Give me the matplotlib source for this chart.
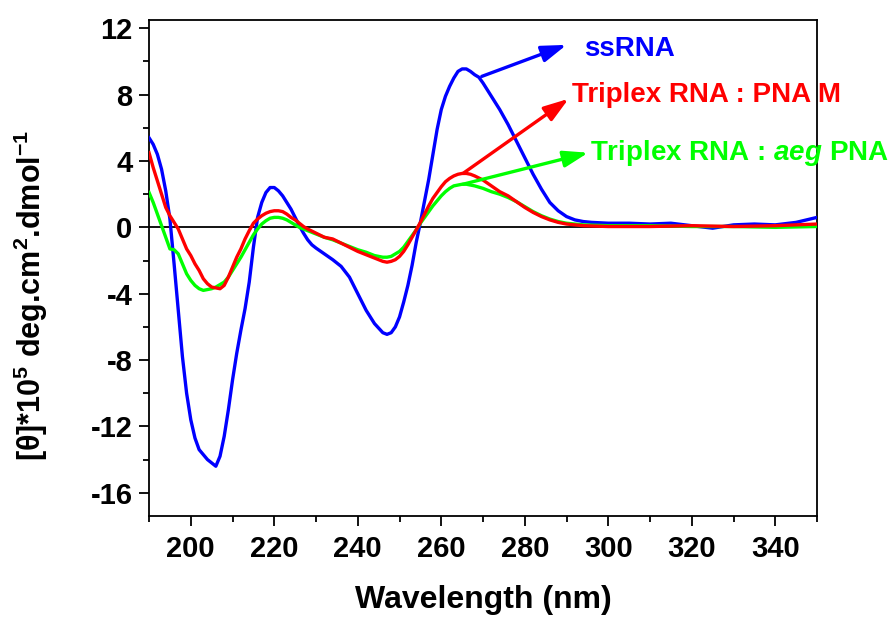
import numpy as np
import matplotlib
matplotlib.use('Agg')
import matplotlib.pyplot as plt
from matplotlib.ticker import MultipleLocator

# ssRNA (blue)
wl_ss = [190, 191, 192, 193, 194, 195, 196, 197, 198, 199, 200, 201, 202, 203, 204, 205, 206, 207, 208, 209,
         210, 211, 212, 213, 214, 215, 216, 217, 218, 219, 220, 221, 222, 223, 224, 225, 226, 227, 228, 229,
         230, 232, 234, 236, 238, 240, 242, 244, 246, 247, 248, 249, 250, 251, 252, 253, 254, 255, 256, 257,
         258, 259, 260, 261, 262, 263, 264, 265, 266, 267, 268, 269, 270, 272, 274, 276, 278, 280, 282, 284,
         286, 288, 290, 292, 294, 296, 300, 305, 310, 315, 320, 325, 330, 335, 340, 345, 350]
cd_ss = [5.4, 5.0, 4.4, 3.5, 2.2, 0.5, -2.2, -5.0, -7.8, -10.0, -11.6, -12.7, -13.4, -13.7, -14.0, -14.2, -14.4, -13.8, -12.6, -11.0,
         -9.2, -7.6, -6.2, -4.9, -3.3, -1.2, 0.6, 1.5, 2.1, 2.4, 2.4, 2.2, 1.9, 1.5, 1.1, 0.6, 0.1, -0.35, -0.75, -1.05,
         -1.25, -1.6, -1.95, -2.35, -3.0, -4.0, -5.0, -5.8, -6.35, -6.45, -6.35, -6.0, -5.4, -4.5, -3.5, -2.3, -0.9, 0.3, 1.6, 2.9,
         4.4, 5.9, 7.1, 7.9, 8.5, 9.0, 9.4, 9.55, 9.55, 9.4, 9.2, 9.05, 8.7, 7.9, 7.1, 6.2, 5.2, 4.2, 3.2, 2.3,
         1.5, 1.0, 0.65, 0.45, 0.35, 0.3, 0.25, 0.25, 0.2, 0.25, 0.1, -0.05, 0.15, 0.2, 0.15, 0.3, 0.6]

# Triplex RNA : PNA M (red)
wl_pm = [190, 191, 192, 193, 194, 195, 196, 197, 198, 199, 200, 201, 202, 203, 204, 205, 206, 207, 208, 209,
         210, 211, 212, 213, 214, 215, 216, 217, 218, 219, 220, 221, 222, 223, 224, 225, 226, 227, 228, 230,
         232, 234, 236, 238, 240, 242, 244, 246, 247, 248, 249, 250, 251, 252, 253, 254, 255, 256, 257, 258,
         259, 260, 261, 262, 263, 264, 265, 266, 267, 268, 270, 272, 274, 276, 278, 280, 282, 284, 286, 288,
         290, 294, 300, 310, 320, 330, 340, 350]
cd_pm = [4.5, 3.6, 2.8, 2.0, 1.2, 0.7, 0.3, -0.1, -0.7, -1.3, -1.7, -2.2, -2.6, -3.1, -3.4, -3.6, -3.65, -3.7, -3.5, -3.0,
         -2.4, -1.8, -1.3, -0.7, -0.2, 0.25, 0.5, 0.7, 0.85, 0.95, 1.0, 1.0, 0.95, 0.8, 0.6, 0.45, 0.25, 0.05, -0.1, -0.35,
         -0.6, -0.7, -0.95, -1.2, -1.45, -1.65, -1.85, -2.05, -2.1, -2.05, -1.95, -1.75, -1.45, -1.05, -0.6, -0.15, 0.3, 0.8, 1.3, 1.75,
         2.1, 2.45, 2.75, 2.95, 3.1, 3.2, 3.25, 3.25, 3.2, 3.1, 2.85, 2.5, 2.15, 1.9, 1.55, 1.2, 0.9, 0.65, 0.45, 0.3,
         0.2, 0.1, 0.05, 0.05, 0.1, 0.05, 0.1, 0.2]

# Triplex RNA : aeg PNA (green)
wl_aeg = [190, 191, 192, 193, 194, 195, 196, 197, 198, 199, 200, 201, 202, 203, 204, 205, 206, 207, 208, 209,
          210, 211, 212, 213, 214, 215, 216, 217, 218, 219, 220, 221, 222, 223, 224, 225, 226, 227, 228, 230,
          232, 234, 236, 238, 240, 242, 244, 246, 247, 248, 249, 250, 251, 252, 253, 254, 255, 256, 257, 258,
          259, 260, 261, 262, 263, 264, 265, 266, 268, 270, 272, 274, 276, 278, 280, 282, 284, 286, 288, 290,
          294, 300, 310, 320, 330, 340, 350]
cd_aeg = [2.1, 1.5, 0.8, 0.1, -0.6, -1.3, -1.35, -1.6, -2.2, -2.8, -3.2, -3.5, -3.7, -3.8, -3.75, -3.7, -3.6, -3.45, -3.3, -3.0,
          -2.6, -2.2, -1.8, -1.35, -0.9, -0.45, -0.1, 0.2, 0.4, 0.55, 0.6, 0.6, 0.55, 0.45, 0.3, 0.15, 0.0, -0.1, -0.2, -0.4,
          -0.6, -0.75, -0.95, -1.15, -1.35, -1.5, -1.7, -1.8, -1.8, -1.75, -1.6, -1.45, -1.2, -0.85, -0.5, -0.15, 0.25, 0.6, 0.95, 1.3,
          1.6, 1.9, 2.15, 2.35, 2.5, 2.55, 2.6, 2.6, 2.5, 2.35, 2.15, 2.0, 1.8, 1.55, 1.25, 0.95, 0.7, 0.5, 0.35, 0.25,
          0.15, 0.1, 0.1, 0.05, 0.05, 0.0, 0.05]

labels = ['ssRNA', 'Triplex RNA : PNA M', r'Triplex RNA : $\mathit{aeg}$ PNA']
colors = ['#0000ff', '#ff0000', '#00ff00']


def main():
	plt.rcParams['font.family'] = ['Liberation Sans', 'DejaVu Sans']
	plt.rcParams['font.weight'] = 'bold'
	plt.rcParams['axes.unicode_minus'] = False
	plt.rcParams['mathtext.fontset'] = 'custom'
	plt.rcParams['mathtext.rm'] = 'Liberation Sans:bold'
	plt.rcParams['mathtext.bf'] = 'Liberation Sans:bold'
	plt.rcParams['mathtext.it'] = 'Liberation Sans:bold:italic'
	plt.rcParams['mathtext.default'] = 'rm'

	fig = plt.figure(figsize=(8.93, 6.17), dpi=100)
	ax = fig.add_axes([0.1669, 0.1637, 0.7480, 0.8039])

	ax.axhline(0, color='black', lw=1.3, zorder=1)
	ax.plot(wl_ss, cd_ss, color=colors[0], lw=2.4, zorder=3)
	ax.plot(wl_aeg, cd_aeg, color=colors[2], lw=2.4, zorder=3)
	ax.plot(wl_pm, cd_pm, color=colors[1], lw=2.4, zorder=4)

	ax.set_xlim(190, 350)
	ax.set_ylim(-17.4, 12.5)
	ax.xaxis.set_major_locator(MultipleLocator(20))
	ax.xaxis.set_minor_locator(MultipleLocator(10))
	ax.yaxis.set_major_locator(MultipleLocator(4))
	ax.yaxis.set_minor_locator(MultipleLocator(2))
	ax.tick_params(which='major', direction='out', length=7, width=1.3, labelsize=21)
	ax.tick_params(axis='x', which='major', pad=7)
	ax.tick_params(axis='y', which='major', pad=5)
	ax.tick_params(which='minor', direction='out', length=4, width=1.3)
	ax.tick_params(top=False, right=False)
	for s in ax.spines.values():
		s.set_linewidth(1.3)

	ax.set_xlabel('Wavelength (nm)', fontsize=23, fontweight='bold')
	ax.xaxis.set_label_coords(0.5, -0.14)
	ax.set_ylabel(r'[θ]*10$^{5}$ deg.cm$^{2}$.dmol$^{-1}$', fontsize=22, fontweight='bold')
	ax.yaxis.set_label_coords(-0.148, 0.445)

	# annotation arrows
	arr = dict(arrowstyle='-|>,head_length=0.75,head_width=0.25', lw=2.4,
		mutation_scale=20, shrinkA=0, shrinkB=0)
	ax.annotate('', xy=(290, 11.0), xytext=(269.7, 9.1),
		arrowprops=dict(arr, color=colors[0]), zorder=5)
	ax.annotate('', xy=(290.5, 7.75), xytext=(265.2, 3.25),
		arrowprops=dict(arr, color=colors[1]), zorder=5)
	ax.annotate('', xy=(295.2, 4.5), xytext=(265.2, 2.6),
		arrowprops=dict(arr, color=colors[2]), zorder=5)

	ax.text(294.1, 10.75, labels[0], color=colors[0], fontsize=20, fontweight='bold', va='center', ha='left')
	ax.text(291.2, 8.0, labels[1], color=colors[1], fontsize=20, fontweight='bold', va='center', ha='left')
	ax.text(295.7, 4.5, labels[2], color=colors[2], fontsize=20, fontweight='bold', va='center', ha='left',
		clip_on=False)

	fig.savefig('out.png', dpi=100)


if __name__ == '__main__':
	main()
